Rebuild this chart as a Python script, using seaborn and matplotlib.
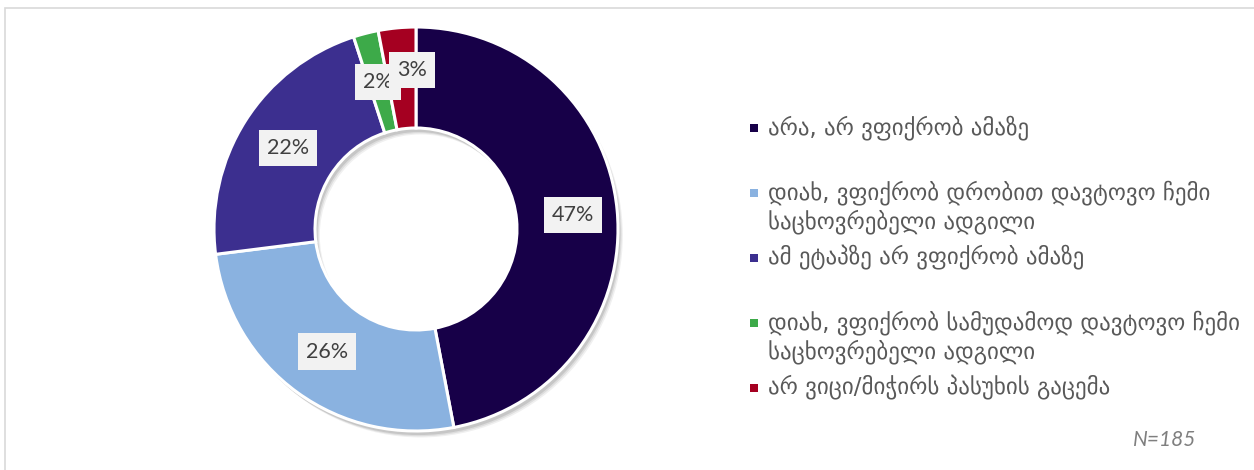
import matplotlib
matplotlib.use("Agg")
import matplotlib.pyplot as plt
from matplotlib.patches import Rectangle
import numpy as np
import seaborn as sns

# ============================================================
#  Data
# ============================================================
answers = [
    "არა, არ ვფიქრობ ამაზე",
    "დიახ, ვფიქრობ დრობით დავტოვო ჩემი\nსაცხოვრებელი ადგილი",
    "ამ ეტაპზე არ ვფიქრობ ამაზე",
    "დიახ, ვფიქრობ სამუდამოდ დავტოვო ჩემი\nსაცხოვრებელი ადგილი",
    "არ ვიცი/მიჭირს პასუხის გაცემა",
]
shares = [47, 26, 22, 2, 3]
colors = ["#170048", "#8AB2E0", "#3C2F8F", "#3DAA49", "#A50021"]
sample_note = "N=185"

# ============================================================
#  Figure
# ============================================================
sns.set_theme(style="white")
plt.rcParams["font.family"] = ["DejaVu Sans"]

W, H = 1254, 470
fig = plt.figure(figsize=(W / 100, H / 100), dpi=100)
fig.patch.set_facecolor("white")

# outer frame of the chart area
fig.add_artist(Rectangle((5 / W, -0.1), 1.2, 1 - 8 / H + 0.1, transform=fig.transFigure,
                         facecolor="none", edgecolor="#D9D9D9", lw=1.2))

cx, cy, r = 416, 229, 202
ax = fig.add_axes([(cx - r) / W, (H - cy - r) / H, 2 * r / W, 2 * r / H])

# soft drop shadow
for k, a in enumerate([0.10, 0.08, 0.06]):
    ax.pie([1], radius=1.0, colors=["black"], center=(0.012 + 0.006 * k, -0.02 - 0.006 * k),
           wedgeprops=dict(width=0.5, linewidth=0, alpha=a))

wedges, _ = ax.pie(shares, colors=colors, startangle=90, counterclock=False, radius=1.0,
                   wedgeprops=dict(width=0.5, edgecolor="white", linewidth=2.2))
ax.set_xlim(-1.0, 1.0)
ax.set_ylim(-1.0, 1.0)
ax.set_aspect("equal")
ax.axis("off")

# percent labels
total = sum(shares)
cum = np.cumsum([0] + shares[:-1])
nudges = [(0.03, 0), (0, 0), (0, 0), (0, 0), (0.05, 0.04)]
for i, v in enumerate(shares):
    mid = (cum[i] + v / 2) / total * 2 * np.pi
    x = 0.75 * np.sin(mid) + nudges[i][0]
    y = 0.75 * np.cos(mid) + nudges[i][1]
    ax.text(x, y, f"{v}%", ha="center", va="center", fontsize=15.5, color="#404040",
            family=["Lato", "DejaVu Sans"],
            bbox=dict(boxstyle="square,pad=0.38", facecolor="#F2F2F2", edgecolor="none"))

# legend
for i, (lab, c) in enumerate(zip(answers, colors)):
    ty = 128 + 65 * i
    fig.add_artist(Rectangle((750 / W, 1 - (ty + 4) / H), 8 / W, 8 / H, transform=fig.transFigure,
                             facecolor=c, edgecolor="none"))
    fig.text(768 / W, 1 - (ty - 13) / H, lab, ha="left", va="top", fontsize=16.5,
             color="#595959", linespacing=1.22)

fig.text(1196 / W, 1 - 440 / H, sample_note, ha="right", va="center", fontsize=15,
         color="#7F7F7F", style="italic", family=["Lato", "DejaVu Sans"])

fig.savefig("out.png", dpi=100)
